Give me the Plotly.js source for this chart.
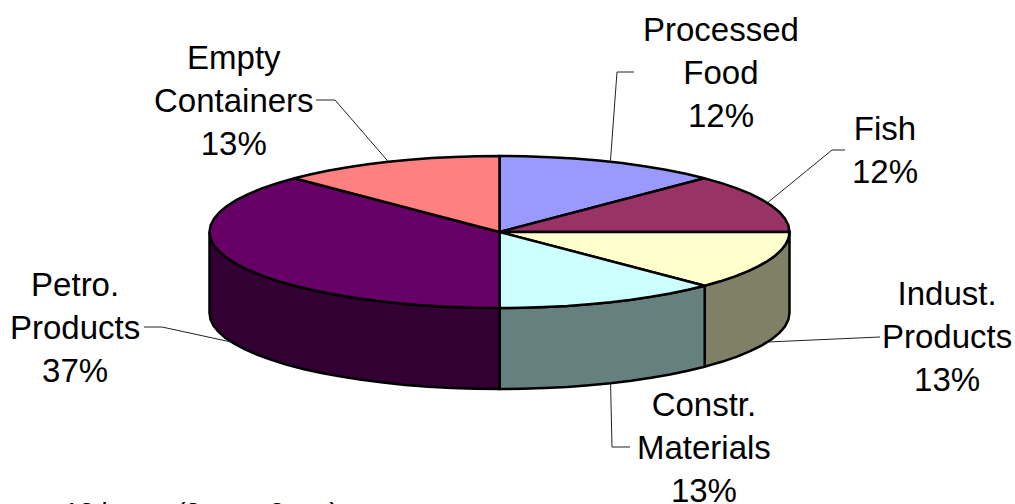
<!DOCTYPE html>
<html>
<head>
<meta charset="utf-8">
<script src="https://cdn.plot.ly/plotly-3.0.1.min.js"></script>
<style>html,body{margin:0;padding:0;background:#fff;overflow:hidden}#chart{width:1015px;height:504px}</style>
</head>
<body>
<div id="chart"></div>
<script>
// Data
const categories = ["Processed<br>Food", "Fish", "Indust.<br>Products", "Constr.<br>Materials", "Petro.<br>Products", "Empty<br>Containers"];
const values = [12.49, 12.49, 12.51, 12.51, 37.49, 12.51];
const topColors = ["#9999FF", "#993366", "#FFFFCC", "#CCFFFF", "#660066", "#FF8080"];
const sideColors = ["#4D4D80", "#4D1A33", "#808066", "#668080", "#330033", "#804040"];
const footnote = "12 hours (8 am - 8 pm)";

// Label placement and leader lines
const labelX = [721, 885, 947, 704, 75, 234];
const labelY = [72, 150, 336, 447, 327, 100];
const leaderOnSide = [false, false, true, true, true, false];
const leaderRoutes = [
  [[617, 72], [634, 72]],
  [[832, 150], [845, 150]],
  [[872, 337], [880, 337]],
  [[612, 447], [630, 447]],
  [[162, 327], [144, 327]],
  [[335, 100], [316, 100]]
];

// Pie geometry
const cx = 499.5, cy = 232, rx = 290, ry = 76, depth = 81;
const fontFamily = '"Liberation Sans", Arial, sans-serif';

const total = values.reduce((a, b) => a + b, 0);
const px = a => cx + rx * Math.sin(a * Math.PI / 180);
const py = a => cy - ry * Math.cos(a * Math.PI / 180);
function arc(a0, a1) {
  const pts = [];
  const n = Math.max(1, Math.ceil(Math.abs(a1 - a0) / 5));
  for (let i = 0; i <= n; i++) {
    const a = a0 + (a1 - a0) * i / n;
    pts.push([px(a), py(a)]);
  }
  return pts;
}
function poly(pts, fill, width) {
  return {
    type: "scatter", mode: "lines", x: pts.map(p => p[0]), y: pts.map(p => p[1]),
    fill: "toself", fillcolor: fill, line: {color: "#000", width: width, simplify: false},
    hoverinfo: "skip", showlegend: false
  };
}

const traces = [], tops = [], annotations = [];
let start = 0;
values.forEach((v, i) => {
  const end = start + v / total * 360;
  const mid = (start + end) / 2;
  // visible wall (front half of the rim)
  const s = Math.max(start, 90), e = Math.min(end, 270);
  if (e > s) {
    const upper = arc(s, e);
    const lower = upper.slice().reverse().map(p => [p[0], p[1] + depth]);
    traces.push(poly(upper.concat(lower, [upper[0]]), sideColors[i], 2.5));
  }
  tops.push(poly([[cx, cy]].concat(arc(start, end), [[cx, cy]]), topColors[i], 2.5));
  // leader line
  const anchor = [px(mid), py(mid) + (leaderOnSide[i] ? depth : 0)];
  const route = [anchor].concat(leaderRoutes[i]);
  traces.push({
    type: "scatter", mode: "lines", x: route.map(p => p[0]), y: route.map(p => p[1]),
    line: {color: "#222", width: 1}, hoverinfo: "skip", showlegend: false
  });
  annotations.push({
    xref: "x", yref: "y", x: labelX[i], y: labelY[i], xanchor: "center", yanchor: "middle",
    showarrow: false, align: "center", text: categories[i] + "<br>" + Math.round(v) + "%",
    font: {family: fontFamily, size: 33, color: "#000"}
  });
  start = end;
});

annotations.push({
  xref: "x", yref: "y", x: 62, y: 496, xanchor: "left", yanchor: "top",
  showarrow: false, text: footnote,
  font: {family: fontFamily, size: 27, color: "#000"}
});

Plotly.newPlot("chart", traces.concat(tops), {
  width: 1015, height: 504,
  margin: {l: 0, r: 0, t: 0, b: 0},
  paper_bgcolor: "#fff", plot_bgcolor: "#fff",
  xaxis: {range: [0, 1015], visible: false, fixedrange: true},
  yaxis: {range: [504, 0], visible: false, fixedrange: true},
  annotations: annotations,
  showlegend: false
}, {displayModeBar: false, staticPlot: true});
</script>
</body>
</html>
